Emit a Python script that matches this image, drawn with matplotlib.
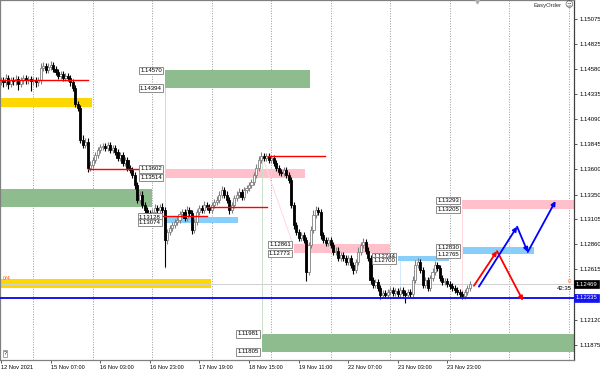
import matplotlib
matplotlib.use('Agg')
import matplotlib.pyplot as plt
from matplotlib.transforms import blended_transform_factory
import numpy as np

plt.rcParams['font.family'] = ['Liberation Sans', 'DejaVu Sans']

# ---------------- data ----------------
first_open = 1.1446
closes = [
    1.1447, 1.1445, 1.1449, 1.1444, 1.1447, 1.1446, 1.1448, 1.1444, 1.1447, 1.1449,
    1.1447, 1.1448, 1.1446, 1.1447,
    1.1445, 1.1447, 1.1459, 1.1461, 1.1457, 1.1460, 1.1462, 1.1458, 1.1455, 1.1451,
    1.1453, 1.1449, 1.1451, 1.1449, 1.1445, 1.1440,
    1.1424, 1.1420, 1.1389, 1.1384, 1.1387, 1.1361, 1.1364, 1.1369, 1.1374, 1.1379,
    1.1382, 1.1383, 1.1381, 1.1384, 1.1379, 1.1381, 1.1377,
    1.1371, 1.1374, 1.1366, 1.1369, 1.1361, 1.1359, 1.1354, 1.1344, 1.1330, 1.1335,
    1.1325, 1.1320, 1.1317, 1.1312,
    1.1318, 1.1322, 1.1320, 1.1323, 1.1320, 1.1290, 1.1298, 1.1302, 1.1305, 1.1308,
    1.1310, 1.1316, 1.1318, 1.1312, 1.1320, 1.1317,
    1.1300, 1.1308, 1.1318, 1.1322, 1.1320, 1.1325, 1.1323, 1.1320, 1.1325, 1.1328,
    1.1330, 1.1335, 1.1339, 1.1335, 1.1330,
    1.1320, 1.1325, 1.1332, 1.1335, 1.1337, 1.1333, 1.1339, 1.1341, 1.1344, 1.1347,
    1.1354, 1.1361, 1.1369,
    1.1373, 1.1371, 1.1373, 1.1369, 1.1371, 1.1366, 1.1361, 1.1357, 1.1356, 1.1359,
    1.1354, 1.1349,
    1.1325, 1.1305, 1.1298, 1.1292, 1.1295, 1.1290, 1.1259, 1.1285, 1.1300, 1.1315,
    1.1320, 1.1318,
    1.1295, 1.1290, 1.1287, 1.1290, 1.1285, 1.1279, 1.1280, 1.1273, 1.1276, 1.1273,
    1.1269, 1.1273, 1.1266, 1.1261, 1.1269,
    1.1279, 1.1285, 1.1288, 1.1280, 1.1273, 1.1251, 1.1246, 1.1249, 1.1243, 1.1236,
    1.1238, 1.1236, 1.1239, 1.1241, 1.1238,
    1.1240, 1.1237, 1.1241, 1.1238, 1.1236, 1.1239, 1.1237, 1.1251, 1.1266, 1.1269,
    1.1261, 1.1246, 1.1251, 1.1243,
    1.1253, 1.1259, 1.1266, 1.1263, 1.1253, 1.1249, 1.1250, 1.1247, 1.1245, 1.1243,
    1.1241, 1.1239, 1.1237, 1.1235, 1.1239, 1.1243, 1.1247,
]
# wick lengths in pips (0.0001)
wick_up = [
    3, 3, 4, 3, 3, 3, 4, 3, 3, 3,  3, 3, 3, 3, 3, 3, 5, 4, 3, 4,
    4, 3, 3, 3, 3, 3, 3, 3, 3, 3,  3, 3, 3, 4, 3, 3, 4, 3, 3, 3,
    3, 3, 3, 3, 3, 3, 3, 3, 3, 3,  3, 3, 3, 3, 3, 3, 3, 3, 3, 3,
    3, 3, 4, 3, 3, 4, 3, 3, 3, 3,  3, 4, 3, 3, 3, 4, 3, 3, 3, 3,
    3, 3, 4, 3, 3, 3, 3, 4, 3, 4,  3, 3, 3, 3, 3, 3, 4, 3, 3, 3,
    3, 3, 3, 4, 4, 4, 3, 3, 3, 3,  3, 3, 3, 3, 3, 3, 3, 3, 3, 3,
    3, 3, 3, 3, 3, 4, 5, 4, 3, 3,  3, 3, 3, 3, 3, 3, 3, 3, 3, 3,
    3, 3, 3, 3, 4, 3, 4, 3, 3, 3,  3, 3, 3, 3, 3, 3, 3, 3, 3, 3,
    3, 3, 3, 3, 3, 3, 4, 5, 4, 3,  3, 3, 3, 3, 4, 4, 3, 3, 3, 3,
    3, 3, 3, 3, 3, 3, 3, 3, 3, 3,
]
wick_dn = [
    3, 4, 3, 5, 3, 3, 3, 6, 3, 3,  3, 3, 9, 3, 4, 3, 3, 3, 3, 3,
    3, 3, 3, 3, 3, 3, 3, 3, 3, 3,  3, 3, 3, 3, 3, 4, 3, 3, 3, 3,
    3, 3, 3, 3, 3, 3, 3, 3, 3, 3,  3, 3, 3, 3, 4, 3, 3, 3, 3, 4,
    4, 3, 3, 3, 3, 3, 26, 4, 3, 3, 3, 3, 3, 3, 3, 3, 3, 4, 3, 3,
    3, 3, 3, 3, 3, 3, 3, 3, 3, 3,  3, 3, 4, 3, 3, 3, 3, 3, 3, 3,
    3, 3, 3, 3, 3, 3, 3, 3, 3, 3,  3, 3, 3, 3, 3, 3, 3, 3, 4, 3,
    3, 3, 3, 9, 3, 3, 3, 3, 3, 4,  3, 3, 3, 3, 3, 3, 3, 3, 3, 3,
    3, 3, 4, 3, 3, 3, 3, 3, 3, 4,  3, 3, 3, 4, 3, 3, 3, 3, 3, 3,
    3, 3, 3, 8, 3, 3, 4, 3, 3, 3,  3, 3, 3, 3, 3, 3, 3, 3, 3, 3,
    3, 3, 3, 3, 3, 3, 3, 3, 3, 3,
]

date_labels = ["12 Nov 2021", "15 Nov 07:00", "16 Nov 03:00", "16 Nov 23:00",
               "17 Nov 19:00", "18 Nov 15:00", "19 Nov 11:00", "22 Nov 07:00",
               "23 Nov 03:00", "23 Nov 23:00"]
date_label_bars = [0, 20, 40, 60, 80, 100, 120, 140, 160, 180]
day_separators = [13, 37, 61, 85, 109, 133, 157, 181, 205, 229]

price_ticks = [1.15075, 1.14825, 1.14580, 1.14335, 1.14090, 1.13845, 1.13600,
               1.13350, 1.13105, 1.12860, 1.12615, 1.12370, 1.12120, 1.11875]
hidden_ticks = [1.12370]   # covered by the support-price box in the reference

# zones: (start bar, end bar, top price, bottom price)
green_zones = [(66.1, 124.6, 1.14570, 1.14394), (-1, 60.9, 1.13401, 1.13230),
               (105.2, 240, 1.11981, 1.11805)]
green_labeled = [True, False, True]
pink_zones = [(66.1, 122.6, 1.13602, 1.13514), (118.1, 156.9, 1.12861, 1.12773),
              (185.9, 240, 1.13293, 1.13205)]
blue_zones = [(65.6, 95.6, 1.13128, 1.13074), (160.1, 180.7, 1.12744, 1.12700),
              (185.9, 214.9, 1.12830, 1.12765)]
yellow_zones = [(-1, 36.7, 1.14298, 1.14210), (-1, 84.7, 1.12520, 1.12435)]

# red horizontal levels: (start bar, end bar, price)
red_levels = [(-1, 35.1, 1.14475), (35.1, 56.1, 1.13602), (58.9, 83.1, 1.13139),
              (83.1, 107.3, 1.13224), (107.7, 130.7, 1.13731)]

support_price = 1.12335
current_price = 1.12469

red_path_up = [(190.7, 1.12454), (200.0, 1.12795)]
red_path_dn = [(200.0, 1.12795), (210.5, 1.12307)]
blue_path = [(192.7, 1.12445), (208.1, 1.13034), (212.4, 1.12785), (223.6, 1.13286)]

# ---------------- figure ----------------
W, H = 600, 371
fig = plt.figure(figsize=(W / 100, H / 100), dpi=100)
ax = fig.add_axes([0, 11 / H, 574 / W, 360 / H])
ytop = 1.15260
ybot = ytop - 360 * 0.0000982
ax.set_xlim(-0.4, 231.05)
ax.set_ylim(ybot, ytop)

GREEN = '#8fbc8f'
PINK = '#ffc0cb'
BLUE_Z = '#87cefa'
GOLD = '#ffd700'

def zone(z, color):
    s, e, t, b = z
    ax.fill_between([s, e], [b, b], [t, t], color=color, lw=0, zorder=1)

lab_kw = dict(textcoords='offset points', xytext=(-2.2, 0), ha='right', va='center',
              fontsize=4.3, color='black', zorder=6,
              bbox=dict(boxstyle='square,pad=0.2', fc='white', ec='#7a7a7a', lw=0.6))

def labels(z):
    s, e, t, b = z
    ax.annotate(f"{t:.5f}", xy=(s, t), **lab_kw)
    ax.annotate(f"{b:.5f}", xy=(s, b), **lab_kw)

for z, lab in zip(green_zones, green_labeled):
    zone(z, GREEN)
    if lab:
        labels(z)
for z in pink_zones:
    zone(z, PINK)
    labels(z)
for z in blue_zones:
    zone(z, BLUE_Z)
    labels(z)
for z in yellow_zones:
    zone(z, GOLD)

# faint guide lines
ax.plot([66.1, 66.1], [green_zones[0][3], 1.12628], color='#c8e0c8', lw=0.7, zorder=1)
ax.plot([105.2, 105.2], [1.13708, green_zones[2][2]], color='#c8e0c8', lw=0.7, zorder=1)
ax.plot([105.6, 117.7], [1.13708, pink_zones[1][2]], color='#ffd8de', lw=0.7, zorder=1)
ax.plot([160.9, 160.9], [blue_zones[1][3], 1.12343], color='#cfe9fb', lw=0.7, zorder=1)
ax.plot([185.9, 185.9], [pink_zones[2][3], 1.12343], color='#ffd8de', lw=0.7, zorder=1)

# day separators
for d in day_separators:
    ax.axvline(d, color='#9a9a9a', lw=0.7, ls=(0, (1, 1.6)), zorder=0.5)

# current price line
ax.axhline(current_price, color='#cfcfcf', lw=0.7, zorder=1.5)

# candles
c = np.array(closes)
o = np.array([first_open] + closes[:-1])
x = np.arange(len(c))
hi = np.maximum(o, c) + np.array(wick_up) * 0.0001
lo = np.minimum(o, c) - np.array(wick_dn) * 0.0001
up = c >= o
ax.vlines(x[up], lo[up], hi[up], color='#808080', lw=0.8, zorder=3)
ax.vlines(x[~up], lo[~up], hi[~up], color='black', lw=0.8, zorder=3)
ax.bar(x[up], (c - o)[up], bottom=o[up], width=0.85, color='white',
       edgecolor='#808080', linewidth=0.6, zorder=3.5)
ax.bar(x[~up], (c - o)[~up], bottom=o[~up], width=0.85, color='black',
       edgecolor='black', linewidth=0.6, zorder=3.5)

# red levels
for s, e, p in red_levels:
    ax.plot([s, e], [p, p], color='#ff0000', lw=1.0, zorder=4)

# support line
ax.axhline(support_price, color='#1414f0', lw=1.4, zorder=4)

# scenario arrows
def arrow(p0, p1, color):
    ax.annotate('', xy=p1, xytext=p0,
                arrowprops=dict(arrowstyle='-|>', color=color, lw=1.3,
                                mutation_scale=6, shrinkA=0, shrinkB=0), zorder=5)

arrow(red_path_up[0], red_path_up[1], '#ff0000')
arrow(red_path_dn[0], red_path_dn[1], '#ff0000')
for p0, p1 in zip(blue_path[:-1], blue_path[1:]):
    arrow(p0, p1, '#0000ff')

# texts inside chart
ax.text(0.8, yellow_zones[1][2] + 0.00002, '0/4', color='#ff5a1e', fontsize=4,
        ha='left', va='center', zorder=6)
ax.text(0.979, 0.986, 'EasyOrder', transform=ax.transAxes, fontsize=4.2,
        ha='right', va='center', color='#303030')
ax.text(0.991, 0.986, '\u263a', transform=ax.transAxes, fontsize=6,
        family='DejaVu Sans', ha='center', va='center', color='#505050')
ax.text(0.009, 0.018, '?', transform=ax.transAxes, fontsize=3.8, ha='center', va='center',
        bbox=dict(boxstyle='square,pad=0.15', fc='white', ec='#808080', lw=0.5))
ax.plot([191.9], [ytop - 0.00006], marker='v', ms=3.5, color='#b0b0b0', clip_on=False, zorder=6)

blend = blended_transform_factory(ax.transAxes, ax.transData)
ax.text(0.996, current_price + 0.00030, '0', transform=blend, color='#ff6a2a',
        fontsize=4.5, ha='right', va='center')
ax.text(0.996, current_price - 0.00045, '42:35', transform=blend, color='black',
        fontsize=4.3, ha='right', va='center')

# axes styling
for sp in ax.spines.values():
    sp.set_color('#808080')
    sp.set_linewidth(0.9)
ax.spines['right'].set_color('#404040')

ax.yaxis.tick_right()
ax.set_yticks(price_ticks)
ax.set_yticklabels(["" if p in hidden_ticks else f"{p:.5f}" for p in price_ticks])
ax.tick_params(axis='y', length=2.5, width=0.6, colors='#404040', labelsize=4.3,
               pad=1.2, labelcolor='black')
ax.set_xticks(date_label_bars)
ax.set_xticklabels(date_labels)
ax.tick_params(axis='x', length=2.5, width=0.6, colors='#404040', labelsize=4.1,
               pad=1.0, labelcolor='black')
for t in ax.get_xticklabels():
    t.set_ha('left')

# right axis price boxes
ax.text(1.003, current_price, f"{current_price:.5f}", transform=blend, color='white',
        fontsize=4.3, ha='left', va='center', zorder=7, clip_on=False,
        bbox=dict(boxstyle='square,pad=0.25', fc='black', ec='black', lw=0.5))
ax.text(1.003, support_price, f"{support_price:.5f}", transform=blend, color='white',
        fontsize=4.3, ha='left', va='center', zorder=7, clip_on=False,
        bbox=dict(boxstyle='square,pad=0.25', fc='#1414f0', ec='#1414f0', lw=0.5))

fig.savefig('out.png', dpi=100, facecolor='white')
